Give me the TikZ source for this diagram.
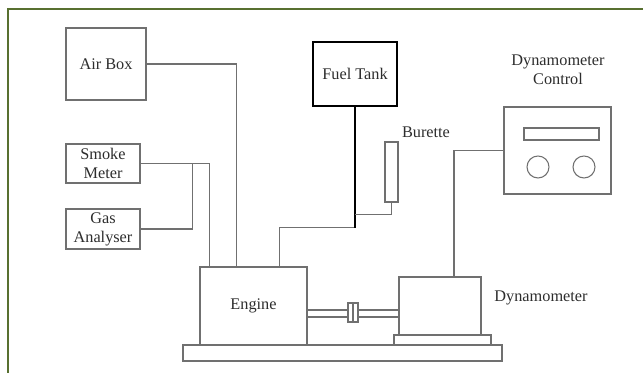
\documentclass[tikz,border=0pt]{standalone}
\usepackage{fontspec}
\setmainfont{Liberation Serif}
\usepackage{tikz}
\usepackage{xcolor}
\usetikzlibrary{positioning,calc}
\definecolor{linegray}{RGB}{112,112,112}
\definecolor{textgray}{RGB}{45,45,45}
\definecolor{framegreen}{RGB}{88,112,48}

\begin{document}
\begin{tikzpicture}[x=0.75pt,y=-0.75pt,
    part/.style={draw=linegray, line width=0.8pt, fill=white, inner sep=0pt,
      font=\fontsize{12.2}{14.3}\selectfont, text=textgray, align=center},
    label/.style={font=\fontsize{12.2}{14.3}\selectfont, text=textgray, align=center, inner sep=0pt},
    pipe/.style={draw=linegray, line width=0.8pt}]
      \useasboundingbox (0,0) rectangle (643,373);
      \draw[framegreen, line width=1.6pt] (643,9) -- (8,9) -- (8,373);
      % bench, engine and dynamometer
      \node[part, minimum width=239.25pt, minimum height=12pt] (base) at (342.5,353) {};
      \node[part, minimum width=72.75pt, minimum height=7.5pt] (pedestal) at (442.5,340) {};
      \node[part, minimum width=61.5pt, minimum height=43.5pt] (dyno) at (440,306) {};
      \node[part, minimum width=80.25pt, minimum height=58.5pt] (engine) at (253.5,306) {Engine};
      \node[part, minimum width=69pt, minimum height=5.25pt] (shaft) at (353,313.5) {};
      \node[part, minimum width=7.5pt, minimum height=14.25pt] (coupling) at (353,312.5) {};
      \draw[pipe] (coupling.north) -- (coupling.south);
      \node[label] (dynolabel) at (541,298) {Dynamometer};
      % instruments
      \node[part, minimum width=60pt, minimum height=54pt] (airbox) at (106,64) {Air Box};
      \node[part, minimum width=55.5pt, minimum height=29.25pt] (smoke) at (103,163.5) {Smoke\\Meter};
      \node[part, minimum width=55.5pt, minimum height=30pt] (gas) at (103,229) {Gas\\Analyser};
      \node[part, draw=black, line width=1.2pt, minimum width=63pt, minimum height=48pt] (tank) at (355,74) {Fuel Tank};
      \node[part, minimum width=9.75pt, minimum height=45pt] (burette) at (391.5,172) {};
      \node[label] (burettelabel) at (426,132) {Burette};
      % dynamometer control
      \node[part, minimum width=80.25pt, minimum height=65.25pt] (control) at (557.5,150.5) {};
      \node[part, minimum width=56.25pt, minimum height=9pt] (slot) at (561.5,134) {};
      \node[part, circle, minimum size=16.5pt] (knobleft) at (538,167) {};
      \node[part, circle, minimum size=16.5pt] (knobright) at (584,167) {};
      \node[label] (controllabel) at (558,70) {Dynamometer\\Control};
      % connections
      \coordinate (tap) at ($(tank.south)+(0,108)$);
      \coordinate (junction) at ($(tank.south)+(0,121)$);
      \draw[pipe] (airbox.east) -| ($(engine.north west)+(37,0)$);
      \draw[pipe] (smoke.east) -| ($(engine.north west)+(10,0)$);
      \draw[pipe] (gas.east) -| ($(smoke.east)+(52,0)$);
      \draw[pipe] ($(engine.north west)+(80,0)$) |- (junction);
      \draw[black, line width=1.2pt] (tank.south) -- (junction);
      \draw[pipe] (tap) -| (burette.south);
      \draw[pipe] (control.west) -| ($(dyno.north)+(14,0)$);
    \end{tikzpicture}
\end{document}
